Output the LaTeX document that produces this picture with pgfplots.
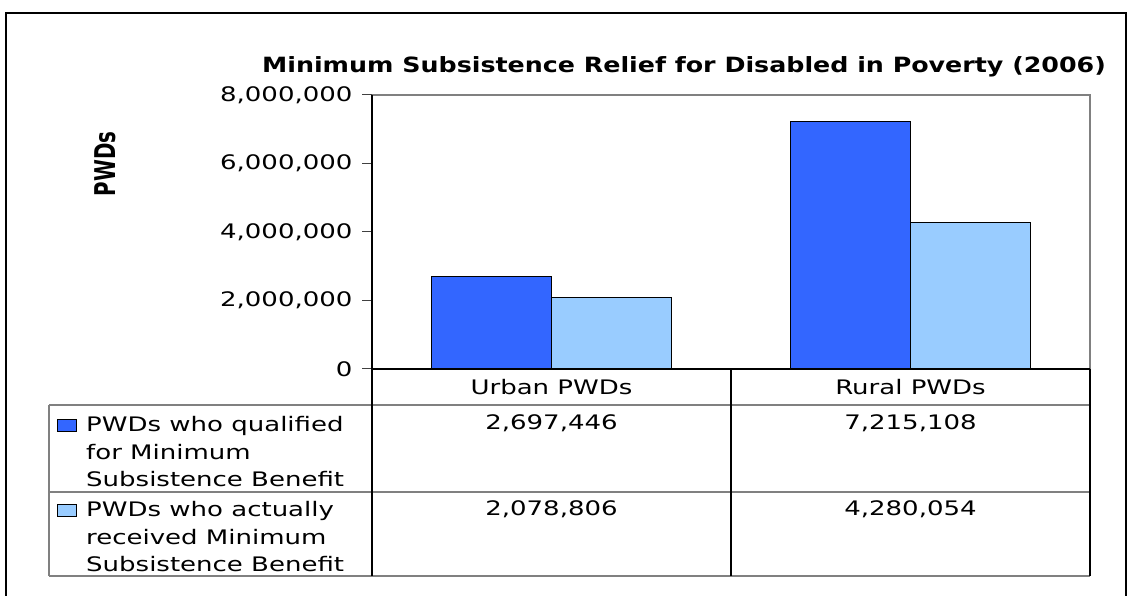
\documentclass[border=0pt]{standalone}
\usepackage{fontspec}
\setmainfont{DejaVu Sans}[FakeStretch=1.3]
\newfontfamily\titlefont{DejaVu Sans Condensed}[FakeStretch=1.34]
\newfontfamily\ylabfont{DejaVu Sans Condensed}
\usepackage{pgfplots}
\pgfplotsset{compat=1.18}
\definecolor{darkb}{HTML}{3366FF}
\definecolor{lightb}{HTML}{99CCFF}
\definecolor{gline}{HTML}{808080}
\newcommand{\tf}{\fontsize{20pt}{24pt}\selectfont}
\begin{document}
\begin{tikzpicture}[x=1pt,y=1pt]
\path[use as bounding box] (0,0) rectangle (1127,596);
\draw[line width=2pt] (6,-5) -- (6,583) -- (1125.5,583) -- (1125.5,-5);
% title
\node[anchor=base, inner sep=0pt] at (684,523) {\titlefont\bfseries\fontsize{21pt}{24pt}\selectfont Minimum Subsistence Relief for Disabled in Poverty (2006)};
% y label
\node[inner sep=0pt] at (105,432) {\scalebox{1.3}[1]{\rotatebox{90}{\ylabfont\bfseries\fontsize{22pt}{24pt}\selectfont PWDs}}};
\begin{axis}[
  at={(372pt,227pt)}, anchor=south west, scale only axis,
  width=718pt, height=274pt,
  xmin=0, xmax=2, ymin=0, ymax=8000000,
  ybar=0pt, bar width=120pt,
  xtick=\empty, ytick={0,2000000,4000000,6000000,8000000},
  ytick pos=left, tick align=outside, major tick length=10pt,
  ytick style={black!75, line width=1pt},
  scaled y ticks=false,
  yticklabel style={xshift=-6pt, /pgf/number format/.cd, fixed, 1000 sep={,}, assume math mode=true},
  ticklabel style={font=\tf},
  axis line style={draw=none},
  clip=false,
]
\addplot[fill=darkb, draw=black, line width=1.2pt] coordinates {(0.5,2697446) (1.5,7215108)};
\addplot[fill=lightb, draw=black, line width=1.2pt] coordinates {(0.5,2078806) (1.5,4280054)};
\draw[gline, line width=1.5pt] (rel axis cs:0,1) -- (rel axis cs:1,1) -- (rel axis cs:1,0);
\draw[black, line width=1.5pt] (rel axis cs:0,1) -- (rel axis cs:0,0) -- (rel axis cs:1,0);
\end{axis}
% data table
\draw[gline, line width=1.5pt] (49,191) -- (1090,191);
\draw[gline, line width=1.5pt] (49,104) -- (1090,104);
\draw[gline, line width=1.5pt] (49,20) -- (1090,20);
\draw[gline, line width=1.5pt] (49,191) -- (49,20);
\draw[black, line width=1.5pt] (372,227) -- (372,20);
\draw[black, line width=1.5pt] (731,227) -- (731,20);
\draw[black, line width=1.5pt] (1090,227) -- (1090,20);
\node[anchor=base, inner sep=0pt, font=\tf] at (551.5,201) {Urban PWDs};
\node[anchor=base, inner sep=0pt, font=\tf] at (910.5,201) {Rural PWDs};
\node[anchor=base, inner sep=0pt, font=\tf] at (551.5,166) {2,697,446};
\node[anchor=base, inner sep=0pt, font=\tf] at (910.5,166) {7,215,108};
\node[anchor=base, inner sep=0pt, font=\tf] at (551.5,80) {2,078,806};
\node[anchor=base, inner sep=0pt, font=\tf] at (910.5,80) {4,280,054};
\draw[fill=darkb, draw=black, line width=0.8pt] (57,165) rectangle (76,177);
\draw[fill=lightb, draw=black, line width=0.8pt] (57,80) rectangle (76,92);
\node[anchor=base west, inner sep=0pt, font=\tf] at (86,164) {PWDs who qualified};
\node[anchor=base west, inner sep=0pt, font=\tf] at (86,136.5) {for Minimum};
\node[anchor=base west, inner sep=0pt, font=\tf] at (86,109) {Subsistence Benefit};
\node[anchor=base west, inner sep=0pt, font=\tf] at (86,79) {PWDs who actually};
\node[anchor=base west, inner sep=0pt, font=\tf] at (86,51.5) {received Minimum};
\node[anchor=base west, inner sep=0pt, font=\tf] at (86,24) {Subsistence Benefit};
\end{tikzpicture}
\end{document}
